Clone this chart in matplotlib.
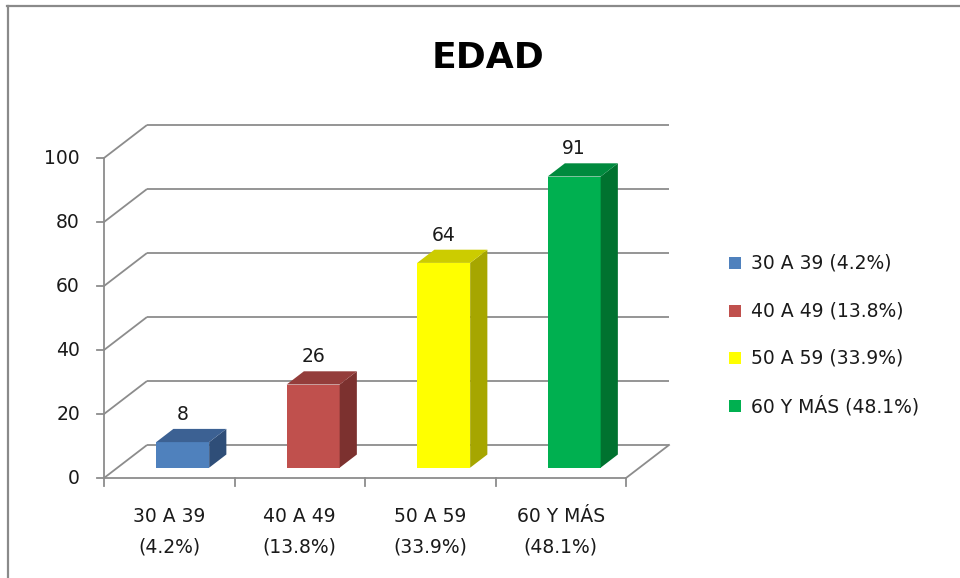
import matplotlib
matplotlib.use("Agg")
import matplotlib.pyplot as plt
from matplotlib.patches import Polygon, Rectangle
from matplotlib.lines import Line2D

# ---- data ----
categories = ["30 A 39", "40 A 49", "50 A 59", "60 Y MÁS"]
percents = ["(4.2%)", "(13.8%)", "(33.9%)", "(48.1%)"]
values = [8, 26, 64, 91]
title = "EDAD"
yticks = [0, 20, 40, 60, 80, 100]

front_colors = ["#4F81BD", "#C0504D", "#FFFF00", "#00B050"]
top_colors = ["#3C6193", "#943D3B", "#CCCC00", "#008A3E"]
side_colors = ["#2F4E78", "#7C312F", "#A6A600", "#00722F"]

plt.rcParams["font.family"] = ["DejaVu Sans"]
SMALL = dict(fontsize=13.5, color="#1a1a1a")
GRID = "#8C8C8C"

W, H = 960, 578
fig = plt.figure(figsize=(W / 100, H / 100), dpi=100)
ax = fig.add_axes([0, 0, 1, 1])

# pixel mapping of front plane: x0 px=104, 130.5 px/category; y0 py=478, 3.2 px/unit
PX0, PXU = 104.0, 130.5
PY0, PYU = 478.0, 3.2
ax.set_xlim(-PX0 / PXU, (W - PX0) / PXU)
ax.set_ylim((PY0 - H) / PYU, PY0 / PYU)
ax.axis("off")

def dx(px):
    return (px - PX0) / PXU

def dy(py):
    return (PY0 - py) / PYU

# depth offsets (full floor depth)
DX = 43 / PXU
DY = 33 / PYU
n = len(categories)
ymax = yticks[-1]

# ---- walls / gridlines ----
for v in yticks:
    ax.plot([0, DX], [v, v + DY], color=GRID, lw=1.3, solid_capstyle="butt")
    ax.plot([DX, n + DX], [v + DY, v + DY], color=GRID, lw=1.3, solid_capstyle="butt")
# floor right edge
ax.plot([n, n + DX], [0, DY], color=GRID, lw=1.3)
# front axes
ax.plot([0, 0], [0, ymax], color=GRID, lw=1.3)
ax.plot([0, n], [0, 0], color=GRID, lw=1.3)
for v in yticks:
    ax.plot([dx(97), 0], [v, v], color=GRID, lw=1.3)
    ax.text(dx(80), v, str(v), ha="right", va="center", **SMALL)
for i in range(n + 1):
    ax.plot([i, i], [0, dy(486)], color=GRID, lw=1.3)

# ---- bars ----
w = 0.406
z0, z1 = 0.312, 0.712
for i, v in enumerate(values):
    xl = i + 0.5 - w / 2 + z0 * DX
    yb = z0 * DY
    ddx = (z1 - z0) * DX
    ddy = (z1 - z0) * DY
    ax.bar(xl, v, width=w, bottom=yb, align="edge", color=front_colors[i],
           edgecolor="none", zorder=3)
    yt = yb + v
    side = Polygon([(xl + w, yb), (xl + w + ddx, yb + ddy), (xl + w + ddx, yt + ddy), (xl + w, yt)],
                   closed=True, facecolor=side_colors[i], edgecolor="none", zorder=3)
    top = Polygon([(xl, yt), (xl + w, yt), (xl + w + ddx, yt + ddy), (xl + ddx, yt + ddy)],
                  closed=True, facecolor=top_colors[i], edgecolor="none", zorder=3)
    ax.add_patch(side)
    ax.add_patch(top)
    ax.text(xl + w / 2, yt + 8.6, str(v), ha="center", va="center", zorder=4, **SMALL)

# ---- category labels ----
for i, (c, p) in enumerate(zip(categories, percents)):
    ax.text(i + 0.5, dy(516), c, ha="center", va="center", **SMALL)
    ax.text(i + 0.5, dy(547), p, ha="center", va="center", **SMALL)

# ---- title ----
ax.text(dx(488), dy(58), title, ha="center", va="center", fontsize=26, fontweight="bold",
        color="#000000")

# ---- legend ----
rows_py = [263, 311, 358, 406]
for i, (c, p) in enumerate(zip(categories, percents)):
    py = rows_py[i]
    ax.add_patch(Rectangle((dx(729), dy(py + 6)), 12 / PXU, 12 / PYU, facecolor=front_colors[i],
                           edgecolor="none", clip_on=False))
    ax.text(dx(751), dy(py), f"{c} {p}", ha="left", va="center", **SMALL)

# ---- outer frame (top and left) ----
fig.add_artist(Line2D([7 / W, 1], [1 - 6 / H, 1 - 6 / H], transform=fig.transFigure, color="#8A8A8A", lw=1.6))
fig.add_artist(Line2D([7.5 / W, 7.5 / W], [0, 1 - 6 / H], transform=fig.transFigure, color="#8A8A8A", lw=1.6))

fig.savefig("out.png", dpi=100)
